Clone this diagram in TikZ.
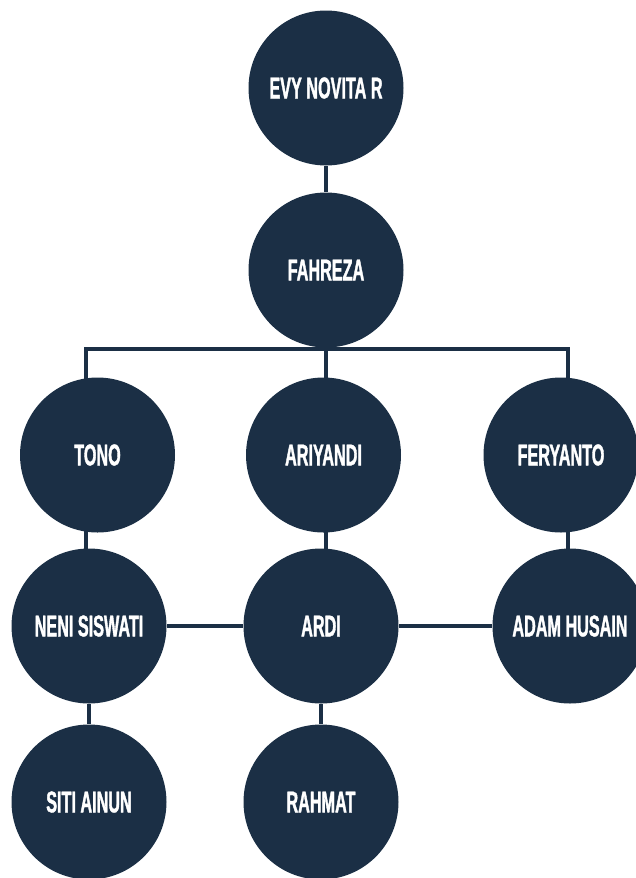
\documentclass[tikz,border=0pt]{standalone}
\usepackage{fontspec}
\usetikzlibrary{backgrounds}
\newfontfamily\namefont[FakeStretch=0.54, FakeBold=1.2]{Liberation Sans}
\definecolor{navy}{HTML}{1B2F45}
\tikzset{
    x=1pt, y=-1pt,
    person/.style={circle, fill=navy, minimum size=155pt, inner sep=0pt,
        text=white, font=\namefont\bfseries\fontsize{30}{30}\selectfont},
    link/.style={draw=navy, line width=4.5pt},
}

\begin{document}
\begin{tikzpicture}
            \useasboundingbox (0, 0) rectangle (636, 878);
            % people
            \node[person] (evy) at (326, 88) {EVY NOVITA R};
            \node[person] (fahreza) at (326, 270) {FAHREZA};
            \node[person] (tono) at (97.5, 455) {TONO};
            \node[person] (ariyandi) at (323.5, 455) {ARIYANDI};
            \node[person] (feryanto) at (561, 455) {FERYANTO};
            \node[person] (neni) at (89, 626) {NENI SISWATI};
            \node[person] (ardi) at (321, 626) {ARDI};
            \node[person] (adam) at (570, 626) {ADAM HUSAIN};
            \node[person] (siti) at (89, 802) {SITI AINUN};
            \node[person] (rahmat) at (321, 802) {RAHMAT};
            \coordinate (busL) at (86, 349);
            \coordinate (busR) at (568, 349);
            % connectors
            \begin{scope}[on background layer]
                \draw[link] (evy) -- (fahreza);
                \draw[link] (fahreza) -- (fahreza |- busL);
                \draw[link] (busL |- tono) -- (busL) -- (busR) -- (busR |- feryanto);
                \draw[link] (fahreza |- busL) -- (fahreza |- ardi);
                \draw[link] (busL |- tono) -- (busL |- neni);
                \draw[link] (busR |- feryanto) -- (busR |- adam);
                \draw[link] (neni) -- (ardi) -- (adam);
                \draw[link] (neni) -- (siti);
                \draw[link] (ardi) -- (rahmat);
            \end{scope}
        \end{tikzpicture}
\end{document}
